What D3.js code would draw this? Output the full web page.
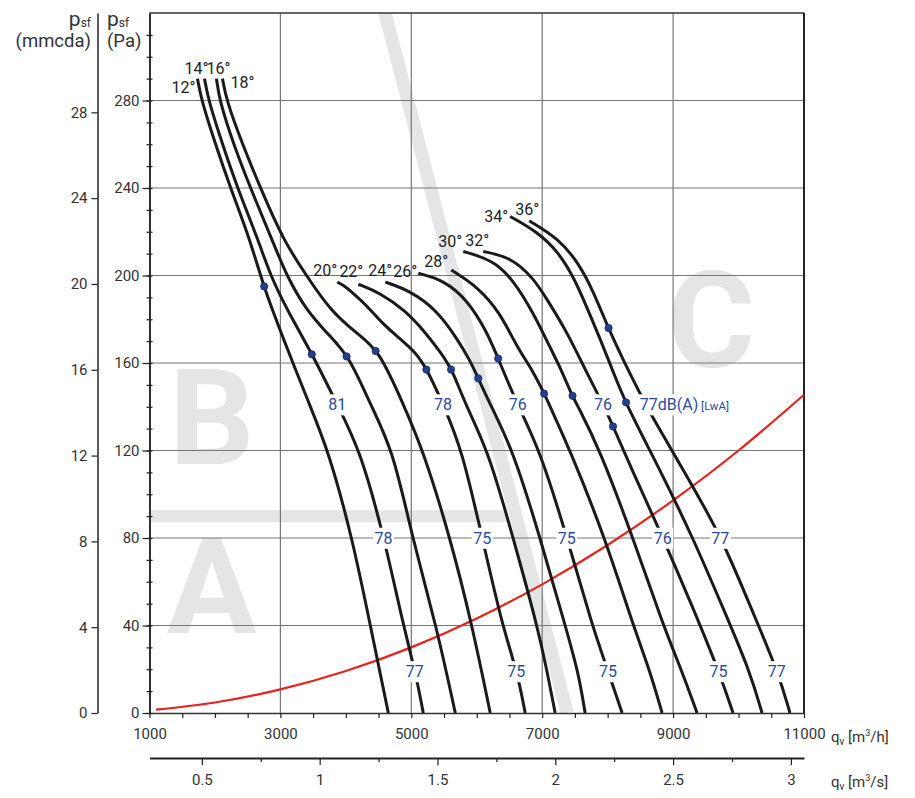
<!DOCTYPE html>
<html>
<head>
<meta charset="utf-8">
<script src="https://cdn.jsdelivr.net/npm/d3@7"></script>
<style>
body { margin: 0; background: #fff; }
svg { display: block; font-family: Roboto, "DejaVu Sans", sans-serif; }
</style>
</head>
<body>
<script>
// canvas size
const width = 915, height = 798;

// blade angles, one curve each
const angles = [12, 14, 16, 18, 20, 22, 24, 26, 28, 30, 32, 34, 36];

// fan curves: [qv m3/h, psf Pa]
const curve12 = [[1733,290],[1794,280],[2008,260],[2237,240],[2542,216],[2740,195],[3046,171],[3443,141],[3733,120],[4099,80],[4374,40],[4649,0]];
const curve14 = [[1840,290],[1901,280],[2115,260],[2344,240],[2664,216],[2847,200],[3107,184],[3489,164],[3885,140],[4221,120],[4588,80],[4878,40],[5061,19],[5183,0]];
const curve16 = [[2023,290],[2069,280],[2283,260],[2542,240],[2878,216],[3092,200],[3397,184],[3733,173],[4053,163],[4374,141],[4725,120],[5015,80],[5382,40],[5672,0]];
const curve18 = [[2115,290],[2176,280],[2420,260],[2695,240],[3046,216],[3397,200],[3763,184],[4145,174],[4511,166],[4878,141],[5183,120],[5595,80],[5931,40],[6206,0]];
const curve20 = [[3870,197],[3992,195],[4069,193],[4298,187],[4557,178],[4832,171],[5061,165],[5244,157],[5489,141],[5779,120],[6084,80],[6389,40],[6618,19],[6740,0]];
const curve22 = [[4191,196],[4527,192],[4908,184],[5214,174],[5443,165],[5626,157],[5825,141],[6176,120],[6557,80],[6924,40],[7076,19],[7198,0]];
const curve24 = [[4603,197],[4985,193],[5397,184],[5702,171],[5901,161],[6023,153],[6206,141],[6557,120],[6969,80],[7351,40],[7550,19],[7656,0]];
const curve26 = [[5107,201],[5489,198],[5855,189],[6160,174],[6328,162],[6618,141],[6969,120],[7382,80],[7763,40],[8008,19],[8221,0]];
const curve28 = [[5611,202.5],[6008,195],[6359,183],[6618,167],[6847,157],[7031,146],[7107,141],[7427,120],[7962,80],[8389,40],[8649,19],[8832,0]];
const curve30 = [[5794,211],[6252,207],[6557,198],[6863,183],[7122,167],[7275,158],[7458,145],[7534,141],[7885,120],[8389,80],[8847,40],[9137,19],[9366,0]];
const curve32 = [[6099,211],[6511,208.5],[6863,199],[7076,189],[7382,174],[7656,157],[7916,142],[8084,131],[8344,113],[8847,80],[9290,49],[9702,19],[9916,0]];
const curve34 = [[6511,227],[6924,220],[7244,211],[7504,198],[7702,184],[7885,171],[8084,156],[8267,142],[8801,111],[9305,80],[9748,49],[10175,19],[10359,0]];
const curve36 = [[6801,225],[7244,217],[7550,206],[7779,193],[8008,176],[8252,160.5],[8496,146],[8649,137],[9198,109],[9748,80],[10175,49],[10603,19],[10786,0]];
const curves = [curve12, curve14, curve16, curve18, curve20, curve22, curve24, curve26, curve28, curve30, curve32, curve34, curve36];

// best efficiency points, one per curve (pressure where the dot sits)
const dotP = [195, 164, 163, 165.5, 157, 157, 153, 162, 146, 145, 131, 142, 176];

// sound power labels: which curve, at which pressure row
const soundCurves = [1, 4, 7, 10, 12];
const soundRowP = [141, 80, 19];
const soundRow1 = ["81", "78", "76", "76", "77"];
const soundRow2 = ["78", "75", "75", "76", "77"];
const soundRow3 = ["77", "75", "75", "75", "77"];

// system curve (red)
const systemQ = [1100, 2000, 3000, 4000, 5000, 6000, 7000, 8000, 9000, 10000, 11000];
const systemP = [1.5, 4.8, 10.8, 19.2, 30, 43.2, 58.8, 76.8, 97.2, 120, 145.5];

// axes ticks
const paMajor = [0, 40, 80, 120, 160, 200, 240, 280];
const mmMajor = [0, 4, 8, 12, 16, 20, 24, 28];
const qhGrid = [3000, 5000, 7000, 9000];
const qsMajor = [0.5, 1, 1.5, 2, 2.5, 3];

// zone letters
const zoneLetters = ["B", "A", "C"];
const zoneQ = [1950, 1950, 9580];
const zoneP = [114, 36.5, 158];

// angle label placement relative to curve start (px)
const angleLabelPos = [
  ["end", -2, 14], ["middle", -8, -5], ["middle", 2, -5], ["start", 8, 9],
  ["end", 0, -6], ["end", 5, -7], ["end", 7, -6], ["end", -1, 4],
  ["end", -3, -3], ["end", -1, -4], ["middle", -6, -5], ["end", -2, 6], ["middle", -2, -6]
];

const x = d3.scaleLinear().domain([1000, 11000]).range([149.5, 804]);
const y = d3.scaleLinear().domain([0, 320]).range([713, 13]);
const yMm = d3.scaleLinear().domain([0, 320 / 9.80665]).range([713, 13]);
const xS = d3.scaleLinear().domain([1000 / 3600, 11000 / 3600]).range([149.5, 804]);

const svg = d3.select("body").append("svg")
  .attr("width", width)
  .attr("height", height);

svg.append("rect").attr("width", width).attr("height", height).attr("fill", "#fff");

svg.append("clipPath").attr("id", "plot")
  .append("rect")
  .attr("x", x(1000)).attr("y", y(320))
  .attr("width", x(11000) - x(1000)).attr("height", y(0) - y(320));

// light grey zones
const bandColor = "#e4e5e7";
const bg = svg.append("g").attr("clip-path", "url(#plot)");
bg.append("line")
  .attr("x1", x(4511)).attr("y1", y(330))
  .attr("x2", x(7382)).attr("y2", y(0))
  .attr("stroke", bandColor).attr("stroke-width", 13);
bg.append("line")
  .attr("x1", x(1000)).attr("y1", y(90))
  .attr("x2", x(6466)).attr("y2", y(90))
  .attr("stroke", bandColor).attr("stroke-width", 12);
bg.selectAll("text.zone")
  .data(zoneLetters)
  .enter()
  .append("text")
  .attr("x", (d, i) => x(zoneQ[i]))
  .attr("y", (d, i) => y(zoneP[i]))
  .attr("text-anchor", "middle")
  .attr("font-size", 134)
  .attr("font-weight", 700)
  .attr("fill", bandColor)
  .text(d => d);

// grid
const grid = svg.append("g").attr("stroke", "#777").attr("stroke-width", 1.2);
grid.selectAll("line.v")
  .data(qhGrid)
  .enter()
  .append("line")
  .attr("x1", d => x(d)).attr("x2", d => x(d))
  .attr("y1", y(320)).attr("y2", y(0));
grid.selectAll("line.h")
  .data(paMajor.slice(1))
  .enter()
  .append("line")
  .attr("x1", x(1000)).attr("x2", x(11000))
  .attr("y1", d => y(d)).attr("y2", d => y(d));

// frame top and right
svg.append("line").attr("x1", x(1000)).attr("x2", x(11000)).attr("y1", y(320)).attr("y2", y(320))
  .attr("stroke", "#333").attr("stroke-width", 1.5);
svg.append("line").attr("x1", x(11000)).attr("x2", x(11000)).attr("y1", y(320)).attr("y2", y(0))
  .attr("stroke", "#222").attr("stroke-width", 2);

// Pa axis: minor ticks crossing the axis, then major with labels
const gPaMinor = svg.append("g").attr("transform", `translate(${x(1000)},0)`)
  .call(d3.axisLeft(y).tickValues(d3.range(0, 320, 10)).tickSize(3).tickSizeOuter(0).tickFormat(""));
gPaMinor.selectAll(".tick line").attr("x1", 3);
const gPa = svg.append("g").attr("transform", `translate(${x(1000)},0)`)
  .call(d3.axisLeft(y).tickValues(paMajor).tickSize(7).tickSizeOuter(0).tickPadding(3));
gPa.selectAll("text").attr("font-size", 15).attr("fill", "#333").attr("font-family", "Roboto");
svg.selectAll(".domain").attr("stroke", "#222").attr("stroke-width", 1.5);
svg.selectAll(".tick line").attr("stroke", "#222").attr("stroke-width", 1.2);

// mmcda axis
const gMm = svg.append("g").attr("transform", "translate(97.5,0)")
  .call(d3.axisLeft(yMm).tickValues(mmMajor).tickSize(6).tickSizeOuter(0).tickPadding(4));
gMm.selectAll("text").attr("font-size", 15).attr("fill", "#333").attr("font-family", "Roboto");
gMm.select(".domain").attr("stroke", "#222").attr("stroke-width", 1.5);
gMm.selectAll(".tick line").attr("stroke", "#222").attr("stroke-width", 1.2);

// bottom axis m3/h
const gQh = svg.append("g").attr("transform", `translate(0,${y(0)})`)
  .call(d3.axisBottom(x).tickValues(d3.range(1000, 11001, 500)).tickSize(5).tickSizeOuter(0).tickPadding(10)
    .tickFormat(d => d % 2000 === 1000 ? d : ""));
gQh.selectAll("text").attr("font-size", 15).attr("fill", "#333").attr("font-family", "Roboto");
gQh.select(".domain").attr("stroke", "#333").attr("stroke-width", 1.5);
gQh.selectAll(".tick line").attr("stroke", "#222").attr("stroke-width", 1.2);

// bottom axis m3/s
const gQs = svg.append("g").attr("transform", "translate(0,758)")
  .call(d3.axisBottom(xS).tickValues(d3.range(0.5, 3.01, 0.25)).tickSize(7).tickSizeOuter(0).tickPadding(9)
    .tickFormat(d => qsMajor.includes(d) ? d3.format("")(d) : ""));
gQs.selectAll(".tick line").attr("y2", d => qsMajor.includes(d) ? 7 : 4).attr("stroke", "#222").attr("stroke-width", 1.2);
gQs.selectAll("text").attr("font-size", 15).attr("fill", "#333").attr("font-family", "Roboto");
gQs.select(".domain").attr("stroke", "#222").attr("stroke-width", 2);

// axis titles
const title = svg.append("g").attr("fill", "#333").attr("font-family", "Roboto");
const t1 = title.append("text").attr("x", 91).attr("y", 26).attr("text-anchor", "end");
t1.append("tspan").attr("font-size", 21).text("p");
t1.append("tspan").attr("font-size", 12).attr("dy", 1).text("sf");
title.append("text").attr("x", 91).attr("y", 47).attr("text-anchor", "end").attr("font-size", 18.5).text("(mmcda)");
const t2 = title.append("text").attr("x", 107).attr("y", 26);
t2.append("tspan").attr("font-size", 21).text("p");
t2.append("tspan").attr("font-size", 12).attr("dy", 1).text("sf");
title.append("text").attr("x", 107).attr("y", 47).attr("font-size", 18.5).text("(Pa)");

const unit = (yy, txt) => {
  const t = title.append("text").attr("x", 831).attr("y", yy).attr("font-size", 15);
  t.append("tspan").text("q");
  t.append("tspan").attr("font-size", 10).attr("dy", 3).text("v");
  t.append("tspan").attr("dy", -3).text(" [m");
  t.append("tspan").attr("font-size", 9).attr("dy", -6).text("3");
  t.append("tspan").attr("dy", 6).text(txt + "]");
};
unit(742, "/h");
unit(787, "/s");

// system curve
const sysLine = d3.line()
  .x((d, i) => x(systemQ[i]))
  .y((d, i) => y(systemP[i]))
  .curve(d3.curveMonotoneX);
svg.append("path")
  .datum(systemQ)
  .attr("d", sysLine)
  .attr("fill", "none")
  .attr("stroke", "#e8221e")
  .attr("stroke-width", 2.2);

// fan curves (smoothed through the read points)
const fanLine = d3.line()
  .x(d => x(d[0]))
  .y(d => y(d[1]))
  .curve(d3.curveBasis);
const fanPaths = svg.selectAll("path.fan")
  .data(curves)
  .enter()
  .append("path")
  .attr("class", "fan")
  .attr("d", fanLine)
  .attr("fill", "none")
  .attr("stroke", "#1a1a1a")
  .attr("stroke-width", 3)
  .nodes();

// point on a drawn curve at a given screen y
function pointAtY(node, py) {
  let lo = 0, hi = node.getTotalLength();
  for (let k = 0; k < 40; k++) {
    const mid = (lo + hi) / 2;
    if (node.getPointAtLength(mid).y < py) lo = mid; else hi = mid;
  }
  return node.getPointAtLength(lo);
}

// angle labels
svg.selectAll("text.angle")
  .data(angles)
  .enter()
  .append("text")
  .attr("x", (d, i) => x(curves[i][0][0]) + angleLabelPos[i][1])
  .attr("y", (d, i) => y(curves[i][0][1]) + angleLabelPos[i][2])
  .attr("text-anchor", (d, i) => angleLabelPos[i][0])
  .attr("font-size", 16)
  .attr("fill", "#222")
  .text(d => d + "°");

// efficiency dots, sitting on their curve
svg.selectAll("circle.bep")
  .data(dotP)
  .enter()
  .append("circle")
  .each(function(d, i) {
    const pt = pointAtY(fanPaths[i], y(d));
    d3.select(this).attr("cx", pt.x).attr("cy", pt.y);
  })
  .attr("r", 3.6)
  .attr("fill", "#243f8f")
  .attr("stroke", "#12255e")
  .attr("stroke-width", 0.8);

// sound labels with white boxes
const blue = "#2e4aa0";
const soundG = svg.append("g").attr("font-size", 16).attr("fill", blue);
[soundRow1, soundRow2, soundRow3].forEach((row, r) => {
  row.forEach((val, k) => {
    const pt = pointAtY(fanPaths[soundCurves[k]], y(soundRowP[r]));
    const g = soundG.append("g");
    const t = g.append("text")
      .attr("x", pt.x)
      .attr("y", pt.y)
      .attr("dy", "0.36em")
      .attr("text-anchor", "middle")
      .text(val);
    if (r === 0 && k === row.length - 1) {
      t.attr("text-anchor", "start").attr("x", pt.x - 6);
      t.append("tspan").text("dB(A)");
      t.append("tspan").attr("font-size", 11.5).text(" [LwA]");
    }
    const b = t.node().getBBox();
    g.insert("rect", "text")
      .attr("x", b.x - 1.5).attr("y", b.y - 1)
      .attr("width", b.width + 3).attr("height", b.height + 2)
      .attr("fill", "#fff");
  });
});
</script>
</body>
</html>
